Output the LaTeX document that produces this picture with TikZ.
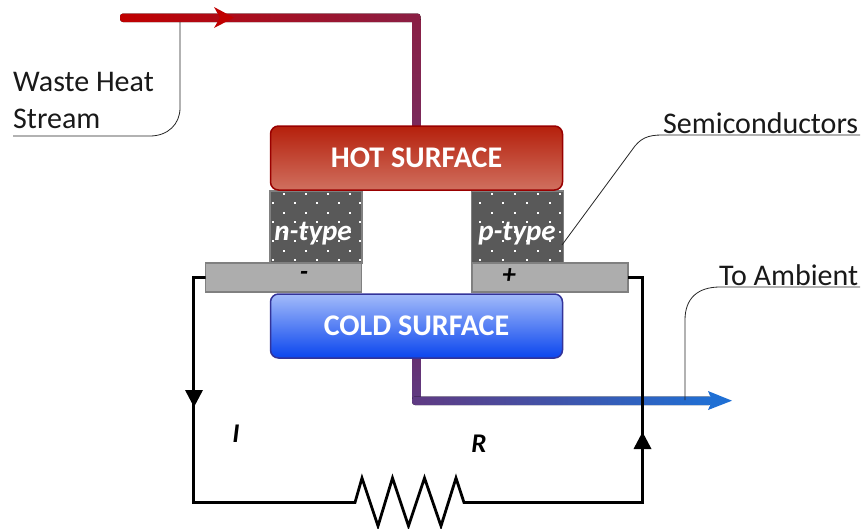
\documentclass[tikz,border=0pt]{standalone}
\usepackage{fontspec}
\setmainfont{Carlito}
\definecolor{hotA}{HTML}{B5200C}
\definecolor{hotB}{HTML}{D0705F}
\definecolor{coldA}{HTML}{A3BBFA}
\definecolor{coldB}{HTML}{0A45EE}
\definecolor{pipeRed}{HTML}{C00000}
\definecolor{pipeMidA}{HTML}{8A1F45}
\definecolor{pipeMidB}{HTML}{7A2A5C}
\definecolor{pipeMidC}{HTML}{663070}
\definecolor{pipeMidD}{HTML}{5F3A82}
\definecolor{pipeBlue}{HTML}{1F6FD4}
\tikzset{
  surface/.style={rounded corners=8pt,line width=1.5pt,minimum width=292pt,minimum height=64pt,inner sep=0pt,outer sep=0pt,text=white,font=\bfseries\fontsize{30}{34}\selectfont},
  semi/.style={fill=black!65,draw=black!50,line width=1.5pt,minimum width=92pt,minimum height=72pt,inner sep=0pt,outer sep=0pt},
  semitext/.style={inner sep=0pt,text=white,font=\bfseries\itshape\fontsize{29}{32}\selectfont},
  plate/.style={fill=black!32,draw=black!50,line width=1.5pt,minimum width=156pt,minimum height=29pt,inner sep=0pt,outer sep=0pt},
  sign/.style={inner sep=0pt,font=\bfseries\itshape\fontsize{27}{30}\selectfont},
  caption/.style={inner sep=0pt,align=left,font=\fontsize{30}{37}\selectfont,text=black!90},
  leader/.style={draw=black!85,line width=0.8pt},
  wire/.style={draw=black,line width=2.8pt},
  dot/.style={fill=white}
}
\begin{document}
\begin{tikzpicture}[x=1pt,y=-1pt]
\useasboundingbox (0,0) rectangle (868,528);
% hot pipe
\fill[left color=pipeRed,right color=pipeMidA,rounded corners=3pt] (120,13.5) -- (420.5,13.5) -- (420.5,22) -- (120,22) -- cycle;
\fill[top color=pipeMidA,bottom color=pipeMidB] (412,19) rectangle (420.5,128);
\fill[pipeRed] (214,7) -- (234,17.7) -- (214,28) -- (220,17.7) -- cycle;
% cold pipe
\fill[top color=pipeMidC,bottom color=pipeMidD] (412,356) rectangle (420.5,400);
\fill[left color=pipeMidD,right color=pipeBlue,rounded corners=3pt] (412,396.5) -- (712,396.5) -- (712,405) -- (412,405) -- cycle;
\fill[pipeBlue] (708,391) -- (732,400.7) -- (708,410) -- (712,400.7) -- cycle;
% semiconductors
\node[semi] (n) at (316,227) {};
\node[semi] (p) at (517.5,227) {};
\foreach \y [count=\i] in {193.5,203,212.5,222,231.5,241,250.5,260}{
  \pgfmathparse{int(mod(\i,2))}
  \ifnum\pgfmathresult=1
    \foreach \x in {284,306,328,350,492,515,538,560}{\fill[dot] (\x-1,\y-1) rectangle (\x+1,\y+1);}
  \else
    \foreach \x in {273,295,317,339,360,480,503,527,550}{\fill[dot] (\x-1,\y-1) rectangle (\x+1,\y+1);}
  \fi
}
\node[semitext] (ntext) at (313,234) {n-type};
\node[semitext] (ptext) at (517,234) {p-type};
% surfaces
\node[surface,draw=red!60!black,top color=hotA,bottom color=hotB] (hot) at (416.5,158) {HOT SURFACE};
\node[surface,draw=blue!50!black!80,top color=coldA,bottom color=coldB] (cold) at (416.5,326) {COLD SURFACE};
% plates
\node[plate] (pl) at (283.5,277.5) {};
\node[plate] (pr) at (550,277.5) {};
\node[sign] (minus) at (304,276) {-};
\node[sign] (plus) at (509,276) {+};
% circuit
\coordinate (bl) at (193.5,502.5);
\coordinate (br) at (642.5,502.5);
\coordinate (rs) at (355,502.5);
\coordinate (re) at (464,502.5);
\draw[wire,line join=miter] (pl.west) -| (bl) -- (rs) -- (362,478) -- (378,526) -- (392.5,478) -- (408.5,526) -- (424.5,478) -- (441,526) -- (456,478) -- (464,502.5) -- (re) -- (br) |- (pr.east);
\fill (185,390) -- (203,390) -- (194,407) -- cycle;
\fill (633.5,449) -- (651.5,449) -- (642.5,432) -- cycle;
\node[sign] (I) at (236,434) {I};
\node[sign] (R) at (479,444) {R};
% captions
\node[caption,anchor=west] (waste) at (13,100.5) {Waste Heat\\Stream};
\node[caption,anchor=west] (sc) at (663,123) {Semiconductors};
\node[caption,anchor=west] (amb) at (719,275) {To Ambient};
\coordinate (w1) at (13,136);
\coordinate (w2) at (180,22);
\coordinate (s1) at (860,135);
\coordinate (s2) at (562,245);
\coordinate (a1) at (860,287);
\coordinate (a2) at (685,400);
\draw[leader] (w1) -- (150,136) .. controls (168,136) and (180,124) .. (180,108) -- (w2);
\draw[leader] (s1) -- (662,135) .. controls (648,135) and (640,138) .. (632,150) -- (s2);
\draw[leader] (a1) -- (720,287) .. controls (698,287) and (685,298) .. (685,320) -- (a2);
\end{tikzpicture}
\end{document}
